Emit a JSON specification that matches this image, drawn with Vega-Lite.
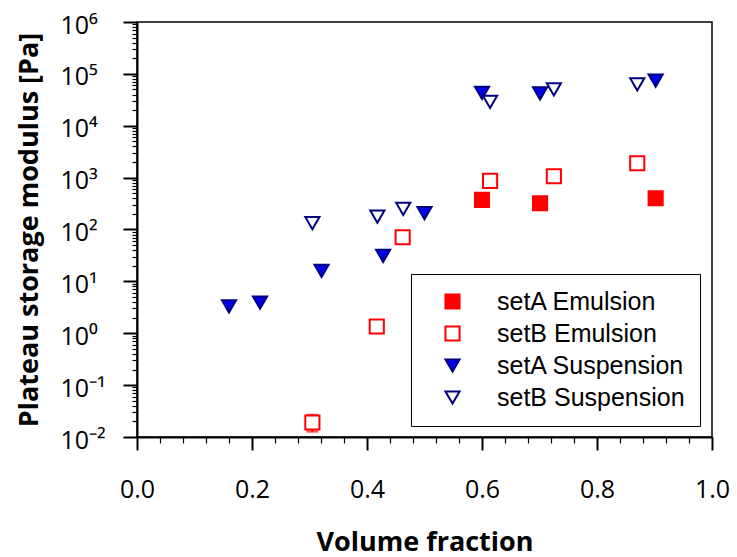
{
  "$schema": "https://vega.github.io/schema/vega-lite/v6.json",
  "width": 575,
  "height": 415,
  "autosize": "none",
  "padding": {"left": 137, "top": 22, "right": 25, "bottom": 120},
  "background": "white",
  "config": {
    "view": {"stroke": "black", "strokeWidth": 1.5},
    "axis": {"grid": false, "domainColor": "black", "domainWidth": 2, "tickColor": "black", "labelColor": "black", "titleColor": "black", "labelFont": "Open Sans", "titleFont": "Open Sans", "labelFontSize": 25, "titleFontSize": 27, "titleFontWeight": "bold", "labelOverlap": false, "labelBound": false, "labelFlush": false}
  },
  "datasets": {
    "pts": [
      {"series": "setA Emulsion", "phi": 0.600, "G": 372},
      {"series": "setA Emulsion", "phi": 0.701, "G": 321},
      {"series": "setA Emulsion", "phi": 0.902, "G": 401},
      {"series": "setB Emulsion", "phi": 0.305, "G": 0.019},
      {"series": "setB Emulsion", "phi": 0.417, "G": 1.35},
      {"series": "setB Emulsion", "phi": 0.462, "G": 71},
      {"series": "setB Emulsion", "phi": 0.614, "G": 864},
      {"series": "setB Emulsion", "phi": 0.725, "G": 1065},
      {"series": "setB Emulsion", "phi": 0.870, "G": 1890},
      {"series": "setA Suspension", "phi": 0.160, "G": 3.3},
      {"series": "setA Suspension", "phi": 0.214, "G": 3.9},
      {"series": "setA Suspension", "phi": 0.321, "G": 16},
      {"series": "setA Suspension", "phi": 0.428, "G": 31},
      {"series": "setA Suspension", "phi": 0.500, "G": 206},
      {"series": "setA Suspension", "phi": 0.600, "G": 43000},
      {"series": "setA Suspension", "phi": 0.701, "G": 42300},
      {"series": "setA Suspension", "phi": 0.902, "G": 74000},
      {"series": "setB Suspension", "phi": 0.305, "G": 132},
      {"series": "setB Suspension", "phi": 0.418, "G": 177},
      {"series": "setB Suspension", "phi": 0.463, "G": 250},
      {"series": "setB Suspension", "phi": 0.614, "G": 28800},
      {"series": "setB Suspension", "phi": 0.725, "G": 50400},
      {"series": "setB Suspension", "phi": 0.870, "G": 63000}
    ],
    "err": [
      {"phi": 0.305, "lo": 0.0127, "hi": 0.0268}
    ]
  },
  "layer": [
    {
      "data": {"name": "err"},
      "mark": {"type": "rule", "color": "#ff0000", "strokeWidth": 2},
      "encoding": {
        "x": {"field": "phi", "type": "quantitative", "title": "Volume fraction"},
        "y": {"field": "lo", "type": "quantitative", "title": "Plateau storage modulus [Pa]"},
        "y2": {"field": "hi"}
      }
    },
    {
      "data": {"name": "err"},
      "mark": {"type": "tick", "color": "#ff0000", "orient": "horizontal", "size": 12, "thickness": 2},
      "encoding": {
        "x": {"field": "phi", "type": "quantitative", "title": "Volume fraction"},
        "y": {"field": "lo", "type": "quantitative", "title": "Plateau storage modulus [Pa]"}
      }
    },
    {
      "data": {"name": "err"},
      "mark": {"type": "tick", "color": "#ff0000", "orient": "horizontal", "size": 12, "thickness": 2},
      "encoding": {
        "x": {"field": "phi", "type": "quantitative", "title": "Volume fraction"},
        "y": {"field": "hi", "type": "quantitative", "title": "Plateau storage modulus [Pa]"}
      }
    },
    {
      "data": {"name": "pts"},
      "mark": {"type": "point", "filled": false, "strokeWidth": 2, "opacity": 1},
      "encoding": {
        "x": {
          "field": "phi", "type": "quantitative", "title": "Volume fraction",
          "scale": {"domain": [0, 1], "nice": false, "zero": false},
          "axis": {
            "values": [0,0.04,0.08,0.12,0.16,0.2,0.24,0.28,0.32,0.36,0.4,0.44,0.48,0.52,0.56,0.6,0.64,0.68,0.72,0.76,0.8,0.84,0.88,0.92,0.96,1.0],
            "tickCount": 200,
            "labelExpr": "abs(datum.value*5 - round(datum.value*5)) < 0.001 ? format(datum.value, '.1f') : ''",
            "tickSize": {"condition": {"test": "abs(datum.value*5 - round(datum.value*5)) < 0.001", "value": 13}, "value": 6},
            "tickWidth": {"condition": {"test": "abs(datum.value*5 - round(datum.value*5)) < 0.001", "value": 2}, "value": 1.2},
            "labelOverlap": false,
            "labelBaseline": "alphabetic",
            "labelPadding": 47,
            "titleBaseline": "alphabetic",
            "titleY": 113,
            "titleX": 287.5
          }
        },
        "y": {
          "field": "G", "type": "quantitative", "title": "Plateau storage modulus [Pa]",
          "scale": {"type": "log", "domain": [0.01, 1000000], "nice": false},
          "axis": {
            "values": [0.01,0.02,0.03,0.04,0.05,0.06,0.07,0.08,0.09,0.1,0.2,0.3,0.4,0.5,0.6,0.7,0.8,0.9,1,2,3,4,5,6,7,8,9,10,20,30,40,50,60,70,80,90,100,200,300,400,500,600,700,800,900,1000,2000,3000,4000,5000,6000,7000,8000,9000,10000,20000,30000,40000,50000,60000,70000,80000,90000,100000,200000,300000,400000,500000,600000,700000,800000,900000,1000000],
            "tickCount": 500,
            "labelExpr": "abs(log(datum.value)/LN10 - round(log(datum.value)/LN10)) < 0.001 ? '10' + ['⁻²','⁻¹','⁰','¹','²','³','⁴','⁵','⁶'][round(log(datum.value)/LN10)+2] : ''",
            "tickSize": {"condition": {"test": "abs(log(datum.value)/LN10 - round(log(datum.value)/LN10)) < 0.001", "value": 14}, "value": 5},
            "tickWidth": {"condition": {"test": "abs(log(datum.value)/LN10 - round(log(datum.value)/LN10)) < 0.001", "value": 2}, "value": 1.2},
            "labelOverlap": false,
            "labelAlign": "left",
            "labelBaseline": "middle",
            "labelPadding": 63,
            "labelOffset": 3,
            "titleAngle": -90,
            "titleBaseline": "alphabetic",
            "titleAlign": "center",
            "titleX": -100,
            "titleY": 207.5
          }
        },
        "shape": {
          "field": "series", "type": "nominal",
          "scale": {"domain": ["setA Emulsion", "setB Emulsion", "setA Suspension", "setB Suspension"], "range": ["square", "square", "triangle-down", "triangle-down"]},
          "legend": {
            "title": null, "orient": "none", "legendX": 274, "legendY": 252,
            "padding": 15, "strokeColor": "black", "fillColor": "white",
            "labelFont": "Liberation Sans", "labelFontSize": 25, "labelColor": "black", "labelLimit": 400,
            "symbolSize": 200, "symbolStrokeWidth": 2, "symbolOffset": 14, "labelOffset": 32, "rowPadding": 6
          }
        },
        "fill": {
          "field": "series", "type": "nominal",
          "scale": {"domain": ["setA Emulsion", "setB Emulsion", "setA Suspension", "setB Suspension"], "range": ["#ff0000", "#ffffff", "#0000ee", "#ffffff"]}
        },
        "stroke": {
          "field": "series", "type": "nominal",
          "scale": {"domain": ["setA Emulsion", "setB Emulsion", "setA Suspension", "setB Suspension"], "range": ["#ff0000", "#ff0000", "#000080", "#000080"]}
        },
        "size": {"value": 200}
      }
    }
  ]
}
